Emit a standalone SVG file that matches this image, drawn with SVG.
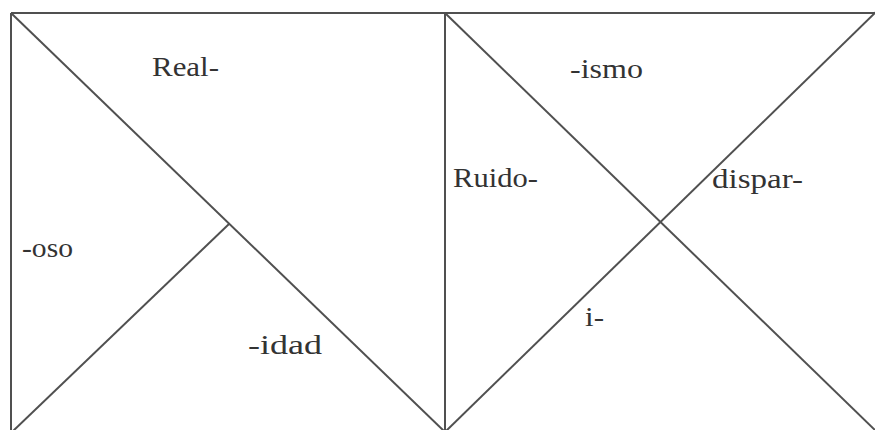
<svg xmlns="http://www.w3.org/2000/svg" width="875" height="430" viewBox="0 0 875 430">
<style>
.ln{stroke:#505050;stroke-width:2;fill:none}
.t{font-family:"Liberation Serif","Times New Roman",serif;font-size:27px;fill:#333}
</style>
<rect width="875" height="430" fill="#fff"/>
<g id="connectors">
<line class="ln" x1="11" y1="13" x2="875" y2="13"/>
<line class="ln" x1="11" y1="13" x2="11" y2="432"/>
<line class="ln" x1="445" y1="13" x2="445" y2="432"/>
<line class="ln" x1="11" y1="13" x2="445" y2="432"/>
<line class="ln" x1="12" y1="432" x2="229" y2="224"/>
<line class="ln" x1="445" y1="13" x2="877" y2="432"/>
<line class="ln" x1="445" y1="432" x2="877" y2="11"/>
</g>
<g id="left-box">
<text class="t" x="152" y="76" textLength="67" lengthAdjust="spacingAndGlyphs">Real-</text>
<text class="t" x="22" y="257" textLength="51" lengthAdjust="spacingAndGlyphs">-oso</text>
<text class="t" x="248" y="354" textLength="74" lengthAdjust="spacingAndGlyphs">-idad</text>
</g>
<g id="right-box">
<text class="t" x="570" y="78" textLength="73" lengthAdjust="spacingAndGlyphs">-ismo</text>
<text class="t" x="453" y="187" textLength="85" lengthAdjust="spacingAndGlyphs">Ruido-</text>
<text class="t" x="712" y="188" textLength="91" lengthAdjust="spacingAndGlyphs">dispar-</text>
<text class="t" x="585" y="326" textLength="19" lengthAdjust="spacingAndGlyphs">i-</text>
</g>
</svg>
